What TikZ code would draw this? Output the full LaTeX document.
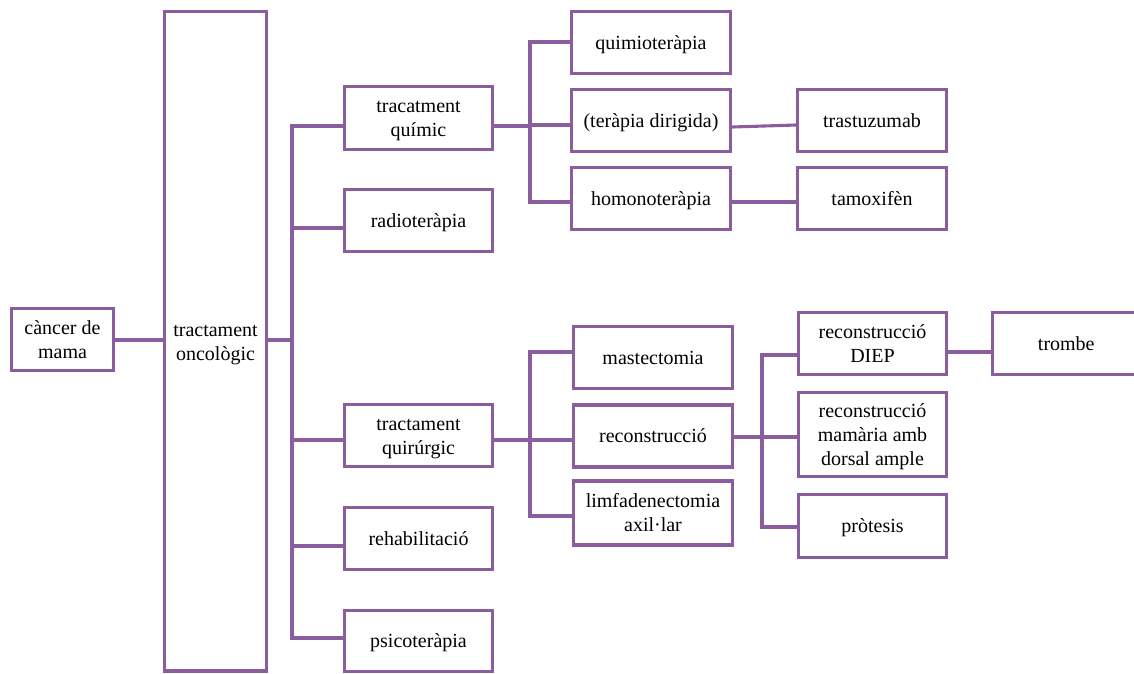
\documentclass[tikz,border=0pt]{standalone}
\usepackage{fontspec}
\setmainfont{Liberation Serif}
\definecolor{vio}{RGB}{138,94,158}
% centred lines of box text, set a little below the box centre
\newcommand\boxtext[1]{\raisebox{0pt}[\dimexpr\height+4pt\relax][\depth]{%
  \begin{tabular}{@{}c@{}}#1\end{tabular}}}
\begin{document}
\begin{tikzpicture}[x=1pt,y=-1pt,
  box/.style={draw=vio, line width=3.1pt, fill=white,
    inner sep=0pt, font=\fontsize{20pt}{24pt}\selectfont},
  link/.style={draw=vio, line width=3.1pt},
  w102/.style={minimum width=102pt},
  w148/.style={minimum width=148pt},
  w159/.style={minimum width=159pt}]
\useasboundingbox (0,0) rectangle (1134,673);

% level 0 and 1
\node[box,w102,minimum height=62pt] (can) at (62.5,339.5) {\boxtext{càncer de\\mama}};
\node[box,w102,minimum height=659.5pt] (onc) at (215.5,341.25) {\boxtext{tractament\\oncològic}};

% level 2
\node[box,w148,minimum height=63pt] (chem)  at (418.5,118)   {\boxtext{tracatment\\químic}};
\node[box,w148,minimum height=62pt] (radio) at (418.5,220.5) {\boxtext{radioteràpia}};
\node[box,w148,minimum height=62pt] (quir)  at (418.5,435.5) {\boxtext{tractament\\quirúrgic}};
\node[box,w148,minimum height=62pt] (rehab) at (418.5,538.5) {\boxtext{rehabilitació}};
\node[box,w148,minimum height=61pt] (psico) at (418.5,641)   {\boxtext{psicoteràpia}};

% level 3, chemical branch
\node[box,w159,minimum height=62pt] (quimio) at (651,42.5)  {\boxtext{quimioteràpia}};
\node[box,w159,minimum height=62pt] (dirig)  at (651,120.5) {\boxtext{(teràpia dirigida)}};
\node[box,w159,minimum height=62pt] (homon)  at (651,198.5) {\boxtext{homonoteràpia}};
\node[box,minimum width=149pt,minimum height=62pt] (trast) at (872,120.5) {\boxtext{trastuzumab}};
\node[box,minimum width=149pt,minimum height=62pt] (tamox) at (872,198.5) {\boxtext{tamoxifèn}};

% level 3, surgical branch
\node[box,w159,minimum height=62pt] (mast)  at (653,357.5) {\boxtext{mastectomia}};
\node[box,w159,minimum height=62pt] (recon) at (653,436)   {\boxtext{reconstrucció}};
\node[box,w159,minimum height=64pt] (limf)  at (653,513)   {\boxtext{limfadenectomia\\axil·lar}};

% level 4 and 5
\node[box,w148,minimum height=62pt] (diep) at (872.5,343.5) {\boxtext{reconstrucció\\DIEP}};
\node[box,w148,minimum height=84pt] (mamaria) at (872.5,434.5) {\boxtext{reconstrucció\\mamària amb\\dorsal ample}};
\node[box,w148,minimum height=63pt] (protesi) at (872.5,526) {\boxtext{pròtesis}};
\node[box,minimum width=147.5pt,minimum height=62pt] (trombe) at (1066.25,343.5) {\boxtext{trombe}};

% bus lines
\coordinate (busA) at (292,0);
\coordinate (busB) at (530,0);
\coordinate (busC) at (530,0);
\coordinate (busD) at (762,0);

% connectors
\draw[link] (can.east |- 0,340) -- (onc.west |- 0,340);
\draw[link] (onc.east |- 0,340) -- (busA |- 0,340);
\draw[link] (chem.west |- 0,126) -| (busA |- 0,638) -- (psico.west |- 0,638);
\draw[link] (busA |- 0,228) -- (radio.west |- 0,228);
\draw[link] (busA |- 0,440) -- (quir.west |- 0,440);
\draw[link] (busA |- 0,546) -- (rehab.west |- 0,546);

\draw[link] (chem.east |- 0,126) -- (busB |- 0,126);
\draw[link] (quimio.west |- 0,42) -| (busB |- 0,202) -- (homon.west |- 0,202);
\draw[link] (busB |- 0,125) -- (dirig.west |- 0,125);
\draw[link] (dirig.east |- 0,127) -- (trast.west |- 0,125);
\draw[link] (homon.east |- 0,202) -- (tamox.west |- 0,202);

\draw[link] (quir.east |- 0,440) -- (busC |- 0,440);
\draw[link] (mast.west |- 0,352) -| (busC |- 0,516) -- (limf.west |- 0,516);
\draw[link] (busC |- 0,440) -- (recon.west |- 0,440);

\draw[link] (recon.east |- 0,437) -- (busD |- 0,437);
\draw[link] (diep.west |- 0,355) -| (busD |- 0,527) -- (protesi.west |- 0,527);
\draw[link] (busD |- 0,437) -- (mamaria.west |- 0,437);
\draw[link] (diep.east |- 0,352) -- (trombe.west |- 0,352);
\end{tikzpicture}
\end{document}
